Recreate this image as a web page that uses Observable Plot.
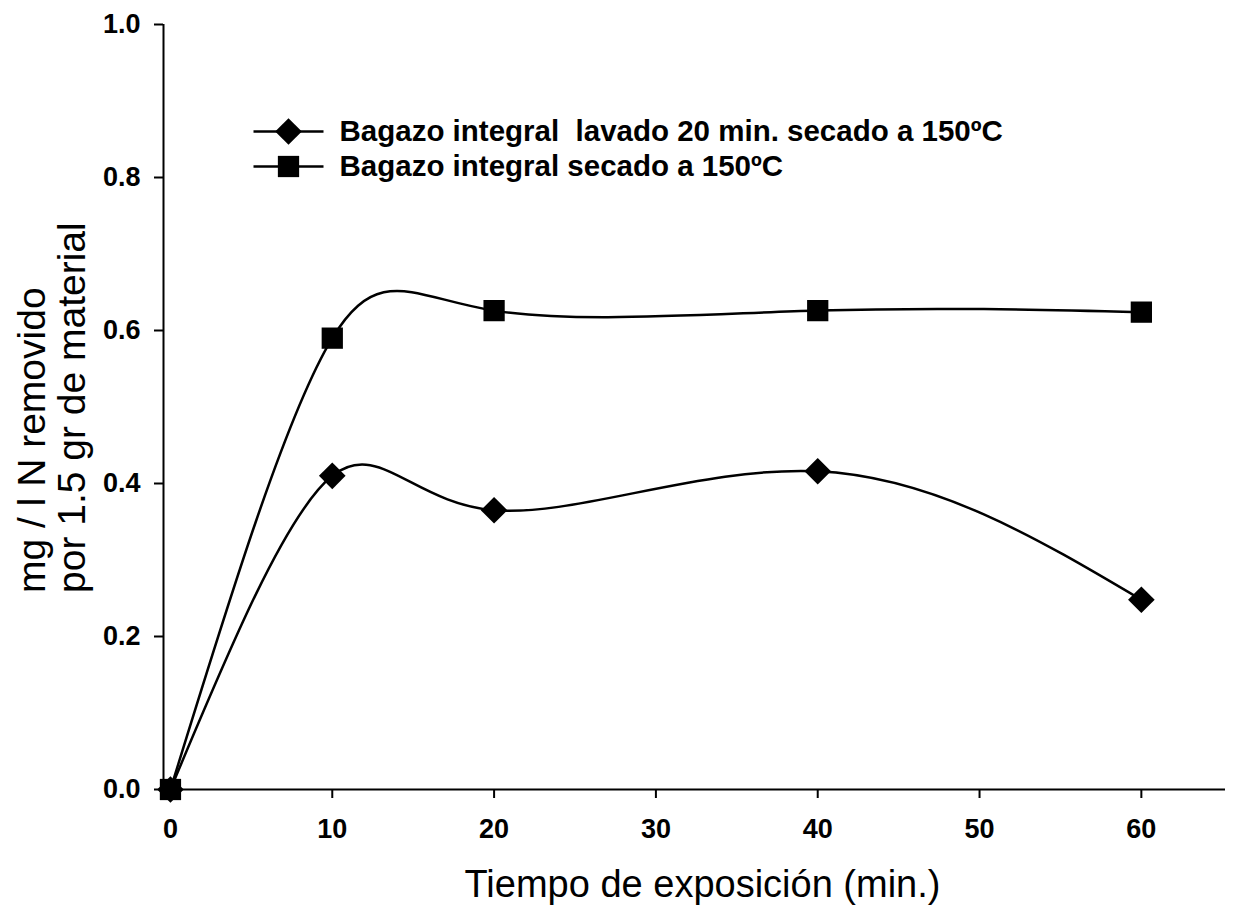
<!DOCTYPE html>
<html>
<head>
<meta charset="utf-8">
<script src="https://cdn.jsdelivr.net/npm/d3@7"></script>
<script src="https://cdn.jsdelivr.net/npm/@observablehq/plot@0.6"></script>
<style>
  html, body { margin: 0; padding: 0; background: white; }
  #chart { width: 1233px; height: 919px; }
</style>
</head>
<body>
<div id="chart"></div>
<script>
// Data
const tiempo = [0, 10, 20, 40, 60];
const lavado = [0, 0.41, 0.365, 0.416, 0.248];   // Bagazo integral lavado 20 min. secado a 150ºC
const secado = [0, 0.59, 0.626, 0.626, 0.624];   // Bagazo integral secado a 150ºC
const seriesNames = [
  "Bagazo integral  lavado 20 min. secado a 150ºC",
  "Bagazo integral secado a 150ºC"
];
const xTicks = [0, 10, 20, 30, 40, 50, 60];
const yTicks = [0, 0.2, 0.4, 0.6, 0.8, 1.0];
const xTitle = "Tiempo de exposición (min.)";
const yTitle1 = "mg / l N removido";
const yTitle2 = "por 1.5 gr de material";

const xDomain = [-0.43, 65.2];
const yDomain = [0, 1];

const rows = [];
tiempo.forEach((t, i) => rows.push({series: seriesNames[0], x: t, y: lavado[i]}));
tiempo.forEach((t, i) => rows.push({series: seriesNames[1], x: t, y: secado[i]}));
const rowsA = rows.filter(d => d.series === seriesNames[0]);
const rowsB = rows.filter(d => d.series === seriesNames[1]);

const legendLine = {draw(ctx) { ctx.moveTo(-35, 0); ctx.lineTo(35, 0); }};

const chart = Plot.plot({
  width: 1233,
  height: 919,
  marginLeft: 163,
  marginRight: 8,
  marginTop: 24,
  marginBottom: 130,
  style: {fontFamily: "'Liberation Sans', Arial, sans-serif", background: "white", color: "black", overflow: "visible"},
  x: {domain: xDomain},
  y: {domain: yDomain},
  marks: [
    Plot.ruleX([xDomain[0]], {stroke: "black", strokeWidth: 2}),
    Plot.ruleY([yDomain[0]], {stroke: "black", strokeWidth: 2}),
    Plot.axisY({ticks: yTicks, tickSize: 9, tickPadding: 14, tickFormat: d3.format(".1f"),
      fontSize: 27, fontWeight: "bold", strokeWidth: 2, stroke: "black", fill: "black", label: null}),
    Plot.axisX({ticks: xTicks, tickSize: 9, tickPadding: 20, tickFormat: d3.format("d"),
      fontSize: 27, fontWeight: "bold", strokeWidth: 2, stroke: "black", fill: "black", label: null}),
    Plot.line(rows, {x: "x", y: "y", z: "series", curve: "natural", stroke: "black", strokeWidth: 2.5}),
    Plot.dot(rowsA, {x: "x", y: "y", symbol: "diamond2", r: 12, fill: "black", stroke: "none"}),
    Plot.dot(rowsB, {x: "x", y: "y", symbol: "square", r: 12, fill: "black", stroke: "none"}),
    // x title
    Plot.text([xTitle], {frameAnchor: "bottom", text: d => d, dx: 8, dy: 95, fontSize: 38, fill: "black", lineAnchor: "middle"}),
    // y title
    Plot.text([yTitle1], {frameAnchor: "left", text: d => d, rotate: -90, dx: -131, dy: 186, textAnchor: "start", fontSize: 39, fill: "black", lineAnchor: "middle"}),
    Plot.text([yTitle2], {frameAnchor: "left", text: d => d, rotate: -90, dx: -91, dy: 186, textAnchor: "start", fontSize: 39, fill: "black", lineAnchor: "middle"}),
    // legend entries
    Plot.dot([seriesNames[0]], {frameAnchor: "top-left", dx: 125, dy: 107, symbol: legendLine, r: 10, stroke: "black", strokeWidth: 2.5, fill: "none"}),
    Plot.dot([seriesNames[0]], {frameAnchor: "top-left", dx: 125, dy: 107, symbol: "diamond2", r: 12, fill: "black", stroke: "none"}),
    Plot.text([seriesNames[0]], {frameAnchor: "top-left", text: d => d, dx: 176, dy: 107, textAnchor: "start", lineAnchor: "middle", fontSize: 29.5, fontWeight: "bold", fill: "black"}),
    Plot.dot([seriesNames[1]], {frameAnchor: "top-left", dx: 125, dy: 142, symbol: legendLine, r: 10, stroke: "black", strokeWidth: 2.5, fill: "none"}),
    Plot.dot([seriesNames[1]], {frameAnchor: "top-left", dx: 125, dy: 142, symbol: "square", r: 12, fill: "black", stroke: "none"}),
    Plot.text([seriesNames[1]], {frameAnchor: "top-left", text: d => d, dx: 176, dy: 142, textAnchor: "start", lineAnchor: "middle", fontSize: 29.5, fontWeight: "bold", fill: "black"})
  ]
});
document.getElementById("chart").appendChild(chart);
</script>
</body>
</html>
